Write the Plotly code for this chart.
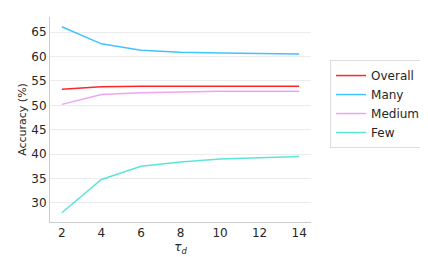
import plotly.graph_objects as go

tau = [2, 4, 6, 8, 10, 12, 14]
overall = [53.3, 53.8, 53.9, 53.9, 53.9, 53.9, 53.9]
many = [66.1, 62.6, 61.3, 60.9, 60.7, 60.6, 60.5]
medium = [50.2, 52.2, 52.6, 52.8, 52.9, 52.9, 52.9]
few = [28.0, 34.8, 37.5, 38.4, 39.0, 39.3, 39.5]

series = [("Overall", overall, "rgba(255,0,0,0.85)"),
          ("Many", many, "rgba(0,176,255,0.75)"),
          ("Medium", medium, "rgba(238,130,238,0.75)"),
          ("Few", few, "rgba(64,224,208,0.85)")]

fig = go.Figure()
for name, vals, col in series:
    fig.add_trace(go.Scatter(x=tau, y=vals, name=name, mode="lines",
                             line=dict(color=col, width=1.5)))

# page body has an 8px margin, so the figure is 420x249 and shifted by 8px
font = dict(family="DejaVu Sans", size=12, color="#262626")
fig.update_layout(
    width=420, height=249,
    margin=dict(l=42, r=117, t=9, b=35, autoexpand=False),
    paper_bgcolor="white", plot_bgcolor="white",
    font=font,
    showlegend=True,
    legend=dict(x=1.073, y=0.79, xanchor="left", yanchor="top",
                bordercolor="#dddddd", borderwidth=1,
                font=dict(family="DejaVu Sans", size=12, color="#262626"),
                tracegroupgap=0, itemwidth=30),
    xaxis=dict(range=[1.4, 14.6], tickvals=[2, 4, 6, 8, 10, 12, 14],
               showgrid=False, zeroline=False, showline=True,
               linecolor="#cccccc", linewidth=1, ticks="",
               automargin=False,
               tickfont=dict(size=12),
               title=dict(text="<i>τ<sub>d</sub></i>", standoff=0,
                          font=dict(size=12))),
    yaxis=dict(range=[26.1, 68.1], tickvals=[30, 35, 40, 45, 50, 55, 60, 65],
               showgrid=True, gridcolor="#ebebeb", gridwidth=1,
               zeroline=False, showline=True, linecolor="#cccccc",
               linewidth=1, ticks="", automargin=False,
               tickfont=dict(size=12),
               title=dict(text="Accuracy (%)", standoff=2,
                          font=dict(size=11))),
)
fig.write_html("out.html")
